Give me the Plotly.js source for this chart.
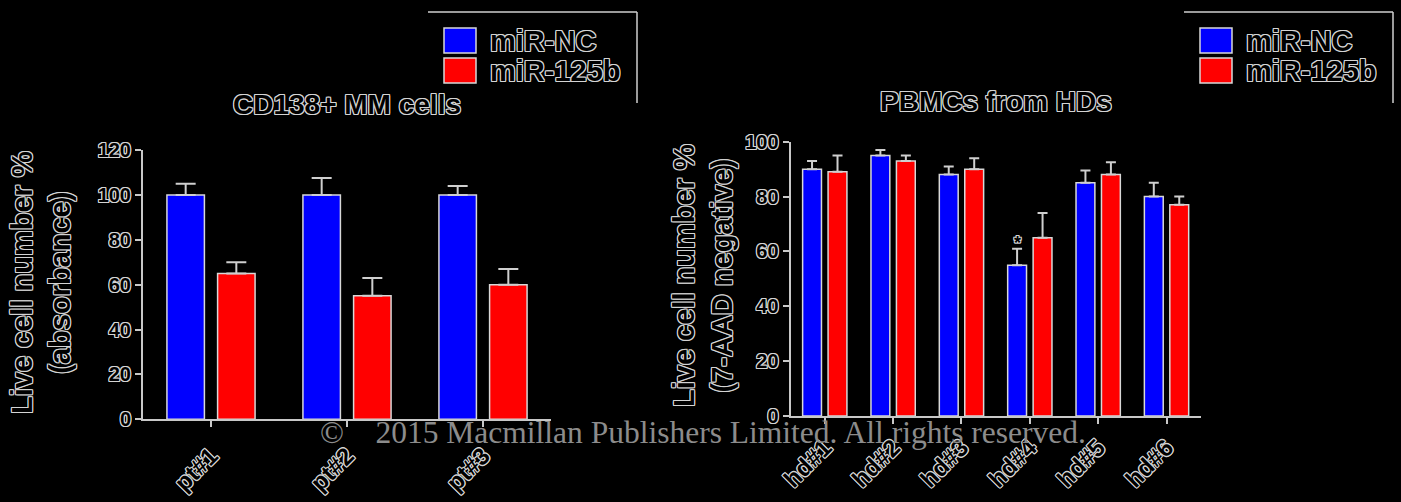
<!DOCTYPE html>
<html>
<head>
<meta charset="utf-8">
<script src="https://cdn.plot.ly/plotly-3.0.1.min.js"></script>
<style>
  html, body { margin: 0; padding: 0; background: #000; }
  #chart { width: 1401px; height: 502px; }
</style>
</head>
<body>
<div id="chart"></div>
<script>
// Viability data: CD138+ MM cells (absorbance) and PBMCs from healthy donors (7-AAD negative)
const mmPatients = ['pt#1', 'pt#2', 'pt#3'];
const mmNC = [100, 100, 100];
const mmNCErr = [5, 7.5, 4];
const mm125b = [65, 55, 60];
const mm125bErr = [5, 8, 7];

const donors = ['hd#1', 'hd#2', 'hd#3', 'hd#4', 'hd#5', 'hd#6'];
const hdNC = [90, 95, 88, 55, 85, 80];
const hdNCErr = [3, 2, 3, 6, 4.5, 5];
const hd125b = [89, 93, 90, 65, 88, 77];
const hd125bErr = [6, 2, 4, 9, 4.5, 3];

const seriesNames = ['miR-NC', 'miR-125b'];
const seriesColors = ['#0000FF', '#FF0000'];

const W = 1401, H = 502;
const px = x => x / W;
const py = y => 1 - y / H;

const edge = '#d8d8d8';
const halo = '#d4d4d4';
const outlined = {
  family: 'Liberation Sans, Arial, sans-serif',
  weight: 'bold',
  color: '#000',
  shadow: ['-1px -1px', '1px -1px', '-1px 1px', '1px 1px', '0 1px', '0 -1px', '1px 0', '-1px 0']
            .map(o => o + ' 0 ' + halo).join(', ')
};
const f = size => Object.assign({}, outlined, {size: size});

function barTrace(x, y, err, i, xa, ya, cap) {
  return {
    type: 'bar', x: x, y: y, xaxis: xa, yaxis: ya,
    name: seriesNames[i], showlegend: false,
    marker: {color: seriesColors[i], line: {color: edge, width: 1.5}},
    error_y: {type: 'data', symmetric: false, array: err, arrayminus: err.map(() => 0),
              color: '#cfcfcf', thickness: 2, width: cap},
    hoverinfo: 'x+y'
  };
}

const traces = [
  barTrace(mmPatients, mmNC, mmNCErr, 0, 'x', 'y', 10),
  barTrace(mmPatients, mm125b, mm125bErr, 1, 'x', 'y', 10),
  barTrace(donors, hdNC, hdNCErr, 0, 'x2', 'y2', 5),
  barTrace(donors, hd125b, hd125bErr, 1, 'x2', 'y2', 5)
];

const axisCommon = {
  showgrid: false, zeroline: false, showline: true,
  linecolor: '#c8c8c8', linewidth: 2,
  ticks: 'outside', ticklen: 6, tickwidth: 2, tickcolor: '#c8c8c8',
  fixedrange: true
};

const shapes = [];
const annotations = [];

// Legend boxes (open frame: top and right edges) with colour keys
function legendBlock(left, right, keyX) {
  shapes.push({type: 'line', xref: 'paper', yref: 'paper', x0: px(left), x1: px(right), y0: py(12), y1: py(12),
               line: {color: '#cfcfcf', width: 1.5}});
  shapes.push({type: 'line', xref: 'paper', yref: 'paper', x0: px(right), x1: px(right), y0: py(12), y1: py(103),
               line: {color: '#cfcfcf', width: 1.5}});
  const rows = [[28, 53], [58, 83]];
  rows.forEach((r, i) => {
    shapes.push({type: 'rect', xref: 'paper', yref: 'paper', x0: px(keyX), x1: px(keyX + 32), y0: py(r[1]), y1: py(r[0]),
                 fillcolor: seriesColors[i], line: {color: edge, width: 1.5}});
    annotations.push({xref: 'paper', yref: 'paper', x: px(keyX + 44), y: py((r[0] + r[1]) / 2),
                      xanchor: 'left', yanchor: 'middle', showarrow: false,
                      text: seriesNames[i], font: f(29)});
  });
}
legendBlock(428, 637, 444);
legendBlock(1184, 1393, 1200);

// Panel titles
annotations.push({xref: 'paper', yref: 'paper', x: px(347), y: py(104), xanchor: 'center', yanchor: 'middle',
                  showarrow: false, text: 'CD138+ MM cells', font: f(28)});
annotations.push({xref: 'paper', yref: 'paper', x: px(996), y: py(101), xanchor: 'center', yanchor: 'middle',
                  showarrow: false, text: 'PBMCs from HDs', font: f(28)});

// Y-axis titles
annotations.push({xref: 'paper', yref: 'paper', x: px(41), y: py(283), xanchor: 'center', yanchor: 'middle',
                  showarrow: false, textangle: -90, text: 'Live cell number %<br>(absorbance)', font: f(29)});
annotations.push({xref: 'paper', yref: 'paper', x: px(703), y: py(276), xanchor: 'center', yanchor: 'middle',
                  showarrow: false, textangle: -90, text: 'Live cell number %<br>(7-AAD negative)', font: f(29)});

// Significance mark over hd#4 miR-NC
annotations.push({xref: 'x2', yref: 'y2', x: 'hd#4', xshift: -12.5, y: hdNC[3] + hdNCErr[3], yanchor: 'bottom',
                  yshift: -6, showarrow: false, text: '*', font: f(18)});

// Copyright line
annotations.push({xref: 'paper', yref: 'paper', x: px(318), y: py(432), xanchor: 'left', yanchor: 'middle',
                  showarrow: false,
                  text: '\u00a9\u00a0\u00a0\u00a0\u00a02015 Macmillan Publishers Limited. All rights reserved.',
                  font: {family: 'Liberation Serif, Times New Roman, serif', size: 31.5, color: '#8c8c8c'}});

const layout = {
  width: W, height: H,
  margin: {l: 0, r: 0, t: 0, b: 0},
  paper_bgcolor: '#000', plot_bgcolor: '#000',
  barmode: 'group', bargap: 0.255, bargroupgap: 0.26,
  showlegend: false,
  xaxis: Object.assign({}, axisCommon, {domain: [px(143), px(551)], anchor: 'y',
          tickangle: -45, tickfont: f(24), ticklabelstandoff: 5, range: [-0.5, 2.5]}),
  yaxis: Object.assign({}, axisCommon, {domain: [py(419.3), py(150)], anchor: 'x',
          range: [0, 120], tickvals: [0, 20, 40, 60, 80, 100, 120], tickfont: f(20)}),
  xaxis2: Object.assign({}, axisCommon, {domain: [px(790.6), px(1200.7)], anchor: 'y2',
          tickangle: -45, tickfont: f(24), range: [-0.5, 5.5]}),
  yaxis2: Object.assign({}, axisCommon, {domain: [py(416), py(141.7)], anchor: 'x2',
          range: [0, 100], tickvals: [0, 20, 40, 60, 80, 100], tickfont: f(20)}),
  shapes: shapes,
  annotations: annotations
};

Plotly.newPlot('chart', traces, layout, {displayModeBar: false, staticPlot: true});
</script>
</body>
</html>
